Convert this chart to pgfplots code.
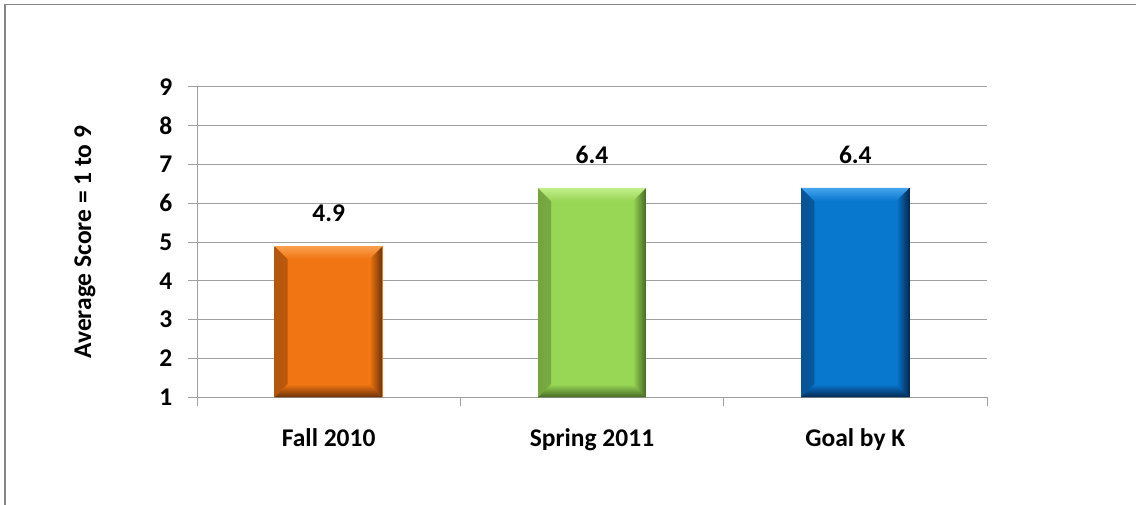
\documentclass[border=0pt]{standalone}
\usepackage{pgfplots}
\pgfplotsset{compat=1.18}
\usepackage{fontspec}
\setmainfont{Carlito}

\definecolor{frameGray}{RGB}{134,134,134}
\definecolor{gridGray}{RGB}{160,160,160}
\definecolor{orangeBase}{RGB}{241,117,18}
\definecolor{orangeLight}{RGB}{250,160,80}
\definecolor{orangeDark}{RGB}{105,48,8}
\definecolor{greenBase}{RGB}{152,214,86}
\definecolor{greenLight}{RGB}{195,238,140}
\definecolor{greenDark}{RGB}{70,105,35}
\definecolor{blueBase}{RGB}{8,119,206}
\definecolor{blueLight}{RGB}{70,165,238}
\definecolor{blueDark}{RGB}{5,40,80}

\newcommand{\chartfont}{\fontsize{25.5bp}{30bp}\selectfont\bfseries}

% edge shadings of a bevelled bar: L (left edge), R (right/bottom edge), T (top edge)
\newcommand{\bevelshadings}[1]{%
  \pgfdeclarehorizontalshading{#1L}{100bp}{color(0bp)=(#1Dark!45!#1Base); color(25bp)=(#1Dark!45!#1Base); color(75bp)=(#1Base); color(100bp)=(#1Base)}%
  \pgfdeclarehorizontalshading{#1R}{100bp}{color(0bp)=(#1Base); color(25bp)=(#1Base); color(75bp)=(#1Dark); color(100bp)=(#1Dark)}%
  \pgfdeclarehorizontalshading{#1T}{100bp}{color(0bp)=(#1Base); color(25bp)=(#1Base); color(75bp)=(#1Light); color(100bp)=(#1Light)}%
}
\bevelshadings{orange}
\bevelshadings{green}
\bevelshadings{blue}

\makeatletter
\newdimen\bvxa \newdimen\bvya \newdimen\bvxb \newdimen\bvyb \newdimen\bvb
\newcommand{\bvpt}[2]{\pgfqpoint{\dimexpr#1\relax}{\dimexpr#2\relax}}
\newcommand{\bevelparts}[1]{%
  \pgfpointanchor{path picture bounding box}{south west}%
  \bvxa=\pgf@x \bvya=\pgf@y
  \pgfpointanchor{path picture bounding box}{north east}%
  \bvxb=\pgf@x \bvyb=\pgf@y
  \bvb=13bp
  \ifdim\bvxa<\bvxb\relax\ifdim\bvya<\bvyb\relax
  % left edge
  \pgfpathmoveto{\bvpt{\bvxa}{\bvyb}}%
  \pgfpathlineto{\bvpt{\bvxa}{\bvya}}%
  \pgfpathlineto{\bvpt{\bvxa+\bvb}{\bvya+\bvb}}%
  \pgfpathlineto{\bvpt{\bvxa+\bvb}{\bvyb-\bvb}}%
  \pgfpathclose
  \pgfshadepath{#1L}{0}\pgfusepath{}%
  % right edge
  \pgfpathmoveto{\bvpt{\bvxb}{\bvyb}}%
  \pgfpathlineto{\bvpt{\bvxb}{\bvya}}%
  \pgfpathlineto{\bvpt{\bvxb-\bvb}{\bvya+\bvb}}%
  \pgfpathlineto{\bvpt{\bvxb-\bvb}{\bvyb-\bvb}}%
  \pgfpathclose
  \pgfshadepath{#1R}{0}\pgfusepath{}%
  % top edge
  \pgfpathmoveto{\bvpt{\bvxa}{\bvyb}}%
  \pgfpathlineto{\bvpt{\bvxb}{\bvyb}}%
  \pgfpathlineto{\bvpt{\bvxb-\bvb}{\bvyb-\bvb}}%
  \pgfpathlineto{\bvpt{\bvxa+\bvb}{\bvyb-\bvb}}%
  \pgfpathclose
  \pgfshadepath{#1T}{90}\pgfusepath{}%
  % bottom edge
  \pgfpathmoveto{\bvpt{\bvxa}{\bvya}}%
  \pgfpathlineto{\bvpt{\bvxb}{\bvya}}%
  \pgfpathlineto{\bvpt{\bvxb-\bvb}{\bvya+\bvb}}%
  \pgfpathlineto{\bvpt{\bvxa+\bvb}{\bvya+\bvb}}%
  \pgfpathclose
  \pgfshadepath{#1R}{-90}\pgfusepath{}%
  \fi\fi
}
\makeatother

\tikzset{
  bevel/.style={fill=#1Base, draw=none, path picture={\bevelparts{#1}}}
}

\begin{document}
\begin{tikzpicture}
\path[use as bounding box] (0,0) rectangle (1136bp,505bp);
\draw[frameGray, line width=1.3bp] (5bp,0) -- (5bp,500.3bp) -- (1136bp,500.3bp);
\begin{axis}[
  at={(197bp,107.7bp)}, anchor=south west,
  scale only axis, width=790bp, height=310.3bp,
  xmin=-0.5, xmax=2.5, ymin=1, ymax=9,
  y coord trafo/.code={\pgfmathparse{#1-1}},
  y coord inv trafo/.code={\pgfmathparse{#1+1}},
  ybar, bar width=108bp, bar shift=0pt,
  axis x line*=bottom, axis y line*=left,
  axis line style={gridGray, line width=1bp, -},
  ymajorgrids, grid style={gridGray, line width=1bp},
  ytick={1,2,3,4,5,6,7,8,9},
  yticklabels={1,2,3,4,5,6,7,8,9},
  xtick={0,1,2},
  xticklabels={Fall 2010, Spring 2011, Goal by K},
  minor xtick={-0.5,0.5,1.5,2.5},
  tick align=outside,
  major tick length=9bp, minor tick length=9bp,
  tick style={gridGray, line width=1bp},
  major x tick style={draw=none},
  /pgf/number format/assume math mode=true,
  tick label style={font=\chartfont, text=black},
  yticklabel style={anchor=east, inner sep=0pt, xshift=-15.5bp},
  xticklabel style={anchor=base, inner sep=0pt, yshift=-40.4bp},
  ylabel={Average Score = 1 to 9},
  ylabel style={at={(axis description cs:-0.1418,0.5)}, anchor=center, font=\chartfont},
  clip=false,
]
\addplot[bevel=orange] coordinates {(0,4.9)};
\addplot[bevel=green] coordinates {(1,6.4)};
\addplot[bevel=blue] coordinates {(2,6.4)};
% value labels above the bars
\addplot[draw=none, fill=none, forget plot, point meta=rawy,
  nodes near coords={\pgfmathprintnumber[fixed,fixed zerofill,precision=1]{\pgfplotspointmeta}},
  every node near coord/.append style={anchor=center, yshift=33bp, font=\chartfont, text=black}]
  coordinates {(0,4.9) (1,6.4) (2,6.4)};
\end{axis}
\end{tikzpicture}
\end{document}
